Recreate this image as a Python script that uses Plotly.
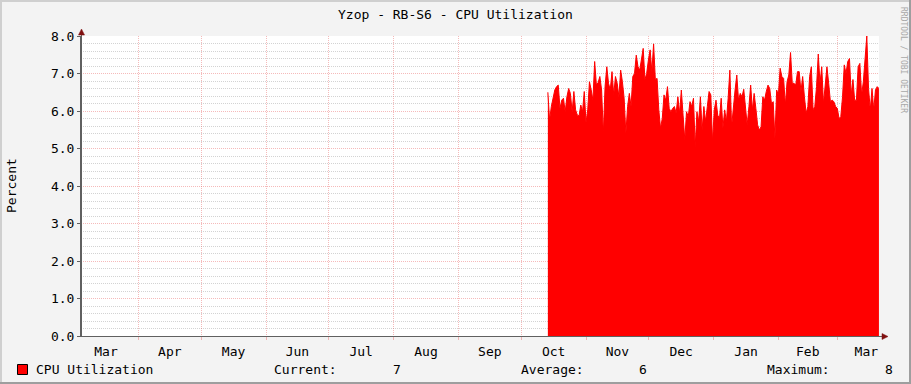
import plotly.graph_objects as go
import pandas as pd

# ---------------- data ----------------
title_text = "Yzop - RB-S6 - CPU Utilization"
y_label = "Percent"
series_name = "CPU Utilization"
watermark = "RRDTOOL / TOBI OETIKER"

x_range = ["2012-03-04 13:00", "2013-03-21 01:40"]
y_range = [0, 8]
data_start = "2012-10-13 18:00"
data_end = "2013-03-21 01:00"

cpu_values = [
    6.50, 5.76, 6.12, 6.38, 6.56, 6.65, 6.69, 6.07, 6.29, 6.34,
    5.98, 6.38, 6.60, 6.47, 5.98, 6.52, 6.03, 5.89, 5.87, 6.16,
    5.98, 6.52, 5.69, 6.03, 6.78, 6.56, 6.29, 7.32, 6.69, 6.76,
    6.92, 6.56, 5.40, 6.65, 7.18, 6.74, 6.56, 7.05, 6.43, 6.92,
    6.74, 6.38, 7.09, 6.78, 6.34, 5.40, 6.12, 6.47, 6.12, 6.92,
    7.00, 7.49, 7.18, 7.09, 7.40, 7.67, 6.84, 7.00, 7.36, 7.63,
    7.05, 7.79, 6.84, 6.87, 6.03, 5.54, 5.80, 6.43, 6.29, 6.65,
    6.07, 5.98, 6.07, 6.12, 5.94, 6.38, 5.94, 6.56, 5.89, 5.23,
    5.98, 5.85, 6.25, 6.12, 6.34, 5.05, 5.98, 5.72, 6.38, 5.49,
    6.12, 5.72, 6.12, 6.52, 6.43, 5.18, 6.03, 6.29, 5.89, 5.80,
    6.34, 5.54, 6.03, 5.72, 6.34, 7.09, 5.58, 6.16, 6.56, 6.96,
    6.29, 6.47, 6.38, 6.58, 6.12, 5.63, 6.12, 6.69, 6.03, 6.47,
    6.07, 5.63, 5.49, 5.58, 6.38, 6.29, 6.52, 6.69, 6.60, 6.20,
    6.25, 5.27, 6.56, 6.43, 7.14, 6.92, 6.87, 6.16, 6.78, 6.96,
    7.56, 6.74, 6.74, 6.69, 7.05, 7.05, 6.52, 6.92, 6.38, 5.94,
    6.12, 6.92, 7.18, 6.03, 6.12, 6.65, 7.52, 6.74, 7.18, 6.20,
    6.69, 7.18, 6.74, 6.25, 6.29, 6.25, 6.12, 6.07, 5.80, 5.85,
    6.38, 7.23, 7.00, 7.32, 7.40, 6.43, 6.84, 6.29, 6.29, 7.18,
    7.27, 6.43, 6.78, 7.36, 8.00, 6.60, 6.03, 6.60, 6.03, 6.56,
    6.65, 6.60,
]

stat_labels = ["Current:", "Average:", "Maximum:"]
stat_values = ["7", "6", "8"]

# ---------------- layout helpers ----------------
W, H = 911, 384
PL, PR, PT, PB = 81, 879, 36, 336  # plot area in pixels


def px(x):
    return (x - PL) / (PR - PL)


def py(y):
    return (PB - y) / (PB - PT)


FONT = "DejaVu Sans Mono"
RED = "#FF0000"
AXIS = "#606060"
ARROW = "#801010"
MGRID = "rgba(230,90,90,0.42)"
GRID = "rgba(150,150,150,0.42)"

dates = pd.date_range(data_start, data_end, periods=len(cpu_values))

fig = go.Figure()
fig.add_trace(go.Scatter(
    x=dates, y=cpu_values, mode="lines", name=series_name,
    line=dict(color=RED, width=1), fill="tozeroy", fillcolor=RED,
    showlegend=False, hoverinfo="skip",
))

fig.update_layout(
    width=W, height=H,
    margin=dict(l=PL, r=W - PR, t=PT, b=H - PB, pad=0),
    paper_bgcolor="#F3F3F3", plot_bgcolor="#FFFFFF",
    font=dict(family=FONT, size=13, color="#000000"),
    showlegend=False,
)

fig.update_xaxes(
    type="date", range=x_range,
    dtick="M1", tick0="2012-04-01", tickformat="%b", ticklabelmode="period",
    showgrid=True, gridcolor=MGRID, griddash="1px,1px", gridwidth=1,
    ticks="outside", ticklen=3, tickcolor=MGRID,
    showline=True, linecolor=AXIS, linewidth=1,
    zeroline=False,
    tickfont=dict(family=FONT, size=13, color="#000000"),
)
fig.update_yaxes(
    range=y_range, dtick=1, tick0=0, tickformat=".1f",
    showgrid=True, gridcolor=MGRID, griddash="1px,1px", gridwidth=1,
    minor=dict(dtick=0.2, showgrid=True, gridcolor=GRID, griddash="1px,1px", gridwidth=1),
    ticks="outside", ticklen=3, tickcolor=AXIS,
    showline=True, linecolor=AXIS, linewidth=1,
    zeroline=False,
    tickfont=dict(family=FONT, size=13, color="#000000"),
)

shapes = []
# frame of the image (light top/left, dark bottom/right)
shapes.append(dict(type="rect", xref="paper", yref="paper", x0=px(0), x1=px(W), y0=py(0), y1=py(2),
                   fillcolor="#CFCFCF", line=dict(width=0), layer="above"))
shapes.append(dict(type="rect", xref="paper", yref="paper", x0=px(0), x1=px(2), y0=py(0), y1=py(H),
                   fillcolor="#CFCFCF", line=dict(width=0), layer="above"))
shapes.append(dict(type="rect", xref="paper", yref="paper", x0=px(W - 2), x1=px(W), y0=py(0), y1=py(H),
                   fillcolor="#9E9E9E", line=dict(width=0), layer="above"))
shapes.append(dict(type="rect", xref="paper", yref="paper", x0=px(0), x1=px(W), y0=py(H - 2), y1=py(H),
                   fillcolor="#9E9E9E", line=dict(width=0), layer="above"))
# axis extensions + arrows
shapes.append(dict(type="line", xref="paper", yref="paper", x0=px(81.5), x1=px(81.5), y0=py(336), y1=py(32),
                   line=dict(color=AXIS, width=1), layer="above"))
shapes.append(dict(type="line", xref="paper", yref="paper", x0=px(77), x1=px(884), y0=py(336.5), y1=py(336.5),
                   line=dict(color=AXIS, width=1), layer="above"))
shapes.append(dict(type="path", xref="paper", yref="paper",
                   path=f"M {px(78.5)},{py(35)} L {px(84.5)},{py(35)} L {px(81.5)},{py(29)} Z",
                   fillcolor=ARROW, line=dict(color=ARROW, width=0.5), layer="above"))
shapes.append(dict(type="path", xref="paper", yref="paper",
                   path=f"M {px(882)},{py(333.5)} L {px(882)},{py(339.5)} L {px(888)},{py(336.5)} Z",
                   fillcolor=ARROW, line=dict(color=ARROW, width=0.5), layer="above"))
# legend swatch
shapes.append(dict(type="rect", xref="paper", yref="paper", x0=px(17.5), x1=px(27.5), y0=py(364.5), y1=py(374.5),
                   fillcolor=RED, line=dict(color="#000000", width=1), layer="above"))
fig.update_layout(shapes=shapes)

ann = []
ann.append(dict(text=title_text, x=px(455.5), y=py(15), xref="paper", yref="paper",
                xanchor="center", yanchor="middle", showarrow=False, font=dict(size=13)))
ann.append(dict(text=y_label, x=px(11), y=py(186), xref="paper", yref="paper", textangle=-90,
                xanchor="center", yanchor="middle", showarrow=False, font=dict(size=13)))
ann.append(dict(text=watermark, x=px(903), y=py(60), xref="paper", yref="paper", textangle=90,
                xanchor="center", yanchor="middle", showarrow=False,
                font=dict(size=8, color="#A8A8A8")))
ann.append(dict(text=series_name, x=px(34), y=py(369), xref="paper", yref="paper",
                xanchor="left", yanchor="middle", showarrow=False, font=dict(size=13)))
label_x = [272, 519, 765]
value_x = [397, 643, 889]
for lab, val, lx, vx in zip(stat_labels, stat_values, label_x, value_x):
    ann.append(dict(text=lab, x=px(lx), y=py(369), xref="paper", yref="paper",
                    xanchor="left", yanchor="middle", showarrow=False, font=dict(size=13)))
    ann.append(dict(text=val, x=px(vx), y=py(369), xref="paper", yref="paper",
                    xanchor="center", yanchor="middle", showarrow=False, font=dict(size=13)))
fig.update_layout(annotations=ann)

fig.write_html("out.html")
